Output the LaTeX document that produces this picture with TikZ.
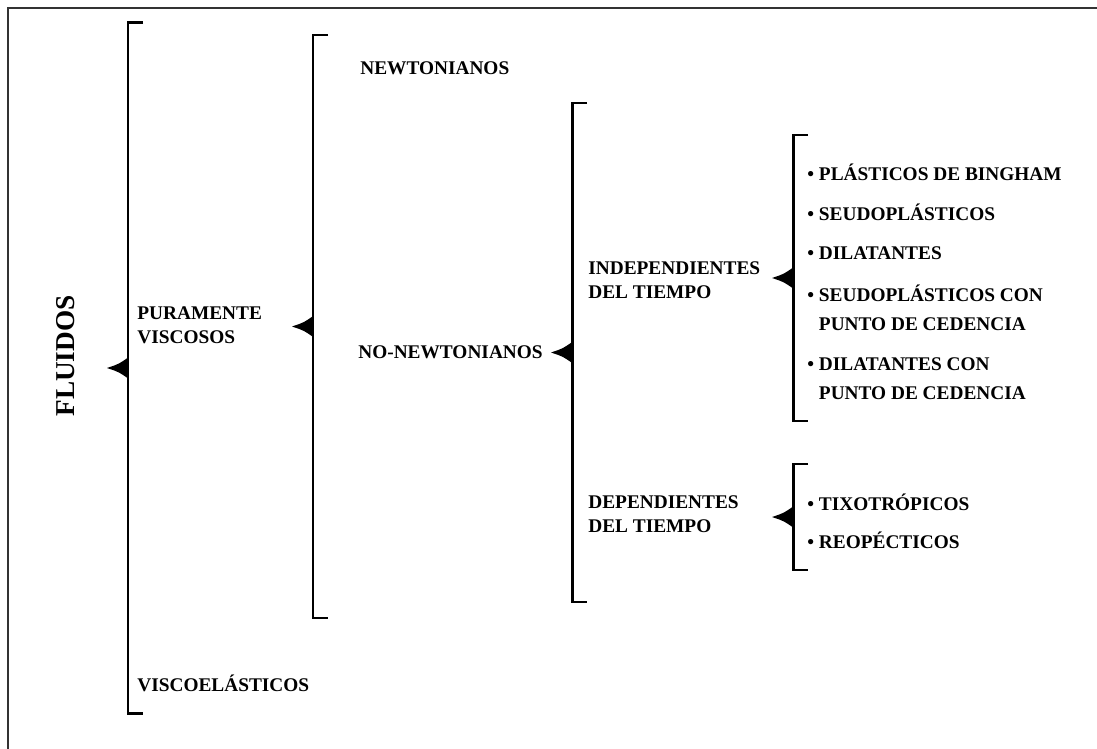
\documentclass[tikz,border=0pt]{standalone}
\usepackage{fontspec}
\setmainfont{Liberation Serif}
\usetikzlibrary{positioning}
\tikzset{
  etiqueta/.style={anchor=west,inner sep=0pt,align=left,
    font=\fontsize{11}{13.7}\selectfont\bfseries},
  item/.style={etiqueta,font=\fontsize{11}{16.4}\selectfont\bfseries},
  trazo/.style={line width=1.7pt},
  marco/.style={line width=1.1pt,draw=black!80},
  % corchete con su punta, centrado en la punta
  pics/corchete/.style={code={
    \draw[trazo] (15,-#1) -- (0,-#1) -- (0,#1) -- (15,#1);
    \fill (0.8,-11) .. controls (-9,-4) .. (-21,0) .. controls (-9,4) .. (0.8,11) -- cycle;
  }},
}

\begin{document}
\begin{tikzpicture}[x=0.02cm,y=-0.02cm]
  \clip (0,0) rectangle (1097,749);
  \draw[marco] (8,760) -- (8,8) -- (1110,8);

  \node[rotate=90,inner sep=0pt,font=\fontsize{15.5}{18}\selectfont\bfseries] (fluidos) at (66,356) {FLUIDOS};
  \pic at (128,368) {corchete=345};
  \node[etiqueta] (puros) at (137,325) {PURAMENTE\\VISCOSOS};
  \node[etiqueta] (viscoel) at (137,683) {VISCOELÁSTICOS};

  \pic at (313,326.5) {corchete=291.5};
  \node[etiqueta] (newt) at (360,68) {NEWTONIANOS};
  \node[etiqueta] (nonewt) at (358,352) {NO-NEWTONIANOS};

  \pic at (572,352.5) {corchete=249.5};
  \node[etiqueta] (indep) at (588,280.5) {INDEPENDIENTES\\DEL TIEMPO};
  \node[etiqueta] (dep) at (588,514.5) {DEPENDIENTES\\DEL TIEMPO};

  \pic at (793,278) {corchete=143};
  \node[item] (bingham) at (807,172) {• PLÁSTICOS DE BINGHAM};
  \node[item] (seudo) at (807,212) {• SEUDOPLÁSTICOS};
  \node[item] (dilat) at (807,253) {• DILATANTES};
  \node[item] (seudoced) at (807,307.5) {• SEUDOPLÁSTICOS CON\\\phantom{• }PUNTO DE CEDENCIA};
  \node[item] (dilatced) at (807,378.5) {• DILATANTES CON\\\phantom{• }PUNTO DE CEDENCIA};

  \pic at (793,517) {corchete=53};
  \node[item] (tixo) at (807,502) {• TIXOTRÓPICOS};
  \node[item] (reope) at (807,540) {• REOPÉCTICOS};
\end{tikzpicture}
\end{document}
